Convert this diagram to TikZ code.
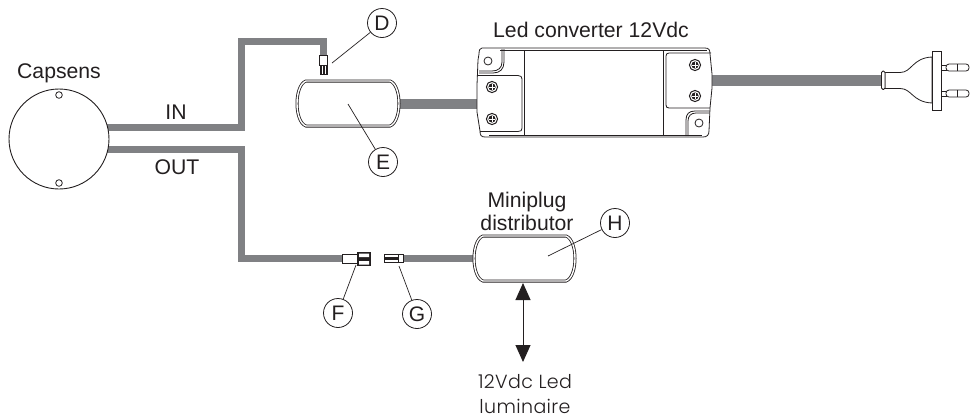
\documentclass[tikz,border=0pt]{standalone}
\usepackage{fontspec}
\setmainfont{Liberation Sans}
\newfontfamily\geofont[LetterSpace=2]{Poppins Light}
\usetikzlibrary{arrows.meta}
\definecolor{wire}{HTML}{808184}
\definecolor{ink}{HTML}{231F20}
\newcommand{\capsule}[4]{%
  \draw[bodyline] (#1+9,#2) -- (#3-9,#2) .. controls (#3-3,#2+2) and (#3,{(#2+#4)/2-10}) .. (#3,{(#2+#4)/2})
    .. controls (#3,{(#2+#4)/2+10}) and (#3-3,#4-2) .. (#3-9,#4) -- (#1+9,#4)
    .. controls (#1+3,#4-2) and (#1,{(#2+#4)/2+10}) .. (#1,{(#2+#4)/2})
    .. controls (#1,{(#2+#4)/2-10}) and (#1+3,#2+2) .. cycle;}
\newcommand{\screw}[2]{%
  \draw[thin line,line width=1pt,fill=white] (#1,#2) circle[radius=5.6];
  \fill[ink] (#1,#2) circle[radius=3.6];
  \draw[white,line width=.8pt] (#1-3,#2) -- (#1+3,#2) (#1,#2-3) -- (#1,#2+3);}
\tikzset{
  x=1pt,y=-1pt,
  thin line/.style={draw=ink,line width=.8pt},
  wireline/.style={draw=wire,line join=miter},
  bodyline/.style={draw=ink,line width=.8pt,double=white,double distance=1.4pt,fill=white},
  tag/.style={circle,draw=ink,line width=.8pt,minimum size=29pt,inner sep=0pt,font=\fontsize{21}{21}\selectfont,text=ink,fill=white},
  lbl/.style={font=\fontsize{21.2}{24}\selectfont,text=ink,inner sep=0pt,align=center},
  geolbl/.style={font=\geofont\fontsize{19}{26}\selectfont,text=ink,inner sep=0pt,anchor=base},
  leader/.style={draw=ink,line width=.7pt},
}
\begin{document}
\begin{tikzpicture}
\useasboundingbox (0,0) rectangle (970,416);
% anchor points
\coordinate (capsIn) at (100,127.5);
\coordinate (capsOut) at (100,149.5);
\coordinate (inA) at (241.7,127.5);
\coordinate (inB) at (241.7,41.5);
\coordinate (inC) at (323.5,41.5);
\coordinate (dTop) at (323.5,56);
\coordinate (outA) at (241.7,149.5);
\coordinate (outB) at (241.7,258.5);
\coordinate (fEnd) at (343,258.5);
\coordinate (gEnd) at (403,258.5);
\coordinate (hIn) at (475,258.5);
\coordinate (eOut) at (398,104);
\coordinate (convIn) at (480,104);
\coordinate (convOut) at (710,80.5);
\coordinate (plugIn) at (883,80.5);
% wires
\draw[wireline,line width=7.5pt] (capsIn) -- (inA) -- (inB) -- (inC) -- (dTop);
\draw[wireline,line width=7.5pt] (capsOut) -- (outA) -- (outB) -- (fEnd);
\draw[wireline,line width=7.5pt] (gEnd) -- (hIn);
\draw[wireline,line width=10pt] (eOut) -- (convIn);
\draw[wireline,line width=11pt] (convOut) -- (plugIn);
% Capsens
\node[circle,draw=ink,line width=.9pt,fill=white,minimum size=100pt,inner sep=0pt] (caps) at (59,139) {};
\draw[thin line] (59,95) circle[radius=3.3] (59,183) circle[radius=3.3];
\node[lbl] (capsLabel) at (59,73) {Capsens};
\node[lbl] (inLabel) at (176,112) {IN};
\node[lbl] (outLabel) at (177,167) {OUT};
% D connector
\draw[thin line,fill=white] (319.7,55.5) rectangle (327.3,65);
\fill[ink] (319.5,65) rectangle (327.5,75);
\draw[white,line width=.8pt] (322.3,65.5) -- (322.3,74) (325,65.5) -- (325,74);
% E and H bodies
\capsule{297}{81}{399}{126}
\capsule{474}{236}{575}{281}
% Converter
\draw[thin line,fill=white] (482,48) -- (705,48) .. controls (709,48) and (710,50) .. (710,54)
  -- (712,74) -- (712,88) -- (710,108) -- (709,131) .. controls (709,135) and (707,137) .. (703,137)
  -- (485,137) .. controls (481,137) and (480,135) .. (480,131) -- (477,112) -- (477,85) -- (478,60) -- (479,54)
  .. controls (479,50) and (480,48) .. (482,48);
\draw[thin line] (500,50) -- (707,50) (489,135.5) -- (702,135.5);
\draw[thin line] (524,50) -- (524,135.5) (663,50) -- (663,135.5);
\draw[thin line] (478,75.5) -- (518,75.5) .. controls (521,75.5) and (522,77) .. (522,79) -- (522,128)
  .. controls (522,130.5) and (521,131.5) .. (518,131.5) -- (480,131.5);
\draw[thin line] (711,53) -- (669,53) .. controls (667,53) and (666,54) .. (666,56) -- (666,105)
  .. controls (666,107) and (667,108) .. (669,108) -- (710,108);
\draw[thin line] (479,71) -- (492,71) .. controls (498,71) and (502,68) .. (502,62) -- (502,49);
\draw[thin line] (479,73) -- (493,73) .. controls (500,73) and (504,69) .. (504,62) -- (504,49);
\draw[thin line] (709,111) -- (695,111) .. controls (689,111) and (686,114) .. (686,120) -- (686,136);
\draw[thin line] (709,113) -- (696,113) .. controls (691,113) and (688,116) .. (688,121) -- (688,136);
\draw[thin line] (488,61) circle[radius=4] (699,123) circle[radius=4];
\screw{492}{87}\screw{492}{119}\screw{695}{65}\screw{695}{96}
\node[lbl] (convLabel) at (591,30) {Led converter 12Vdc};
% Plug
\draw[thin line,fill=white] (885,72.5) -- (900,72.5) .. controls (912,72.5) and (912,58) .. (932,57)
  -- (932,103) .. controls (912,102) and (912,88.5) .. (900,88.5) -- (885,88.5) -- cycle;
\draw[thin line,fill=white,rounded corners=1.5pt] (881.5,71) rectangle (885,89.5);
\draw[thin line,fill=white] (941,65) rectangle (946,70);
\draw[thin line,fill=white] (941,91) rectangle (946,96);
\draw[thin line,fill=white,rounded corners=3pt] (946,64) rectangle (969,71);
\draw[thin line,fill=white,rounded corners=3pt] (946,90) rectangle (969,97);
\draw[draw=ink,line width=.5pt] (957,64) -- (957,71) (957,90) -- (957,97);
\draw[thin line,fill=white] (932,51) rectangle (941,110);
% F connector
\draw[thin line,fill=white] (342,254.5) rectangle (357,263.5);
\fill[ink] (357,252) rectangle (371,266);
\fill[white] (359,253.5) rectangle (369,257) (359,261) rectangle (369,264.5);
% G connector
\draw[thin line,fill=white] (384.5,254.5) rectangle (403,262.8);
\fill[ink] (384.5,257) rectangle (398,260);
\draw[thin line] (398,254.5) -- (398,262.8);
% Tags and leaders
\node[tag] (D) at (382,23) {D};
\node[tag] (E) at (383,162) {E};
\node[tag] (F) at (338,313) {F};
\node[tag] (G) at (417,314) {G};
\node[tag] (H) at (615,223) {H};
\coordinate (dTip) at (332,63);
\coordinate (eTip) at (348,104);
\coordinate (fTip) at (356,265);
\coordinate (gTip) at (399,266);
\coordinate (hTip) at (548,256);
\draw[leader] (D) -- (dTip);
\draw[leader] (E) -- (eTip);
\draw[leader] (F) -- (fTip);
\draw[leader] (G) -- (gTip);
\draw[leader] (H) -- (hTip);
% Distributor label and arrow
\node[lbl] (hLabel) at (527,211.5) {Miniplug\\[-1pt]distributor};
\node[geolbl] (lumLabelA) at (525,388) {12Vdc Led};
\node[geolbl] (lumLabelB) at (525,413) {luminaire};
\coordinate (arrTop) at (523,283);
\coordinate (arrBot) at (523,362);
\draw[draw=ink,line width=1pt,{Triangle[length=17pt,width=15pt]}-{Triangle[length=17pt,width=15pt]},ink] (arrTop) -- (arrBot);
\end{tikzpicture}
\end{document}
